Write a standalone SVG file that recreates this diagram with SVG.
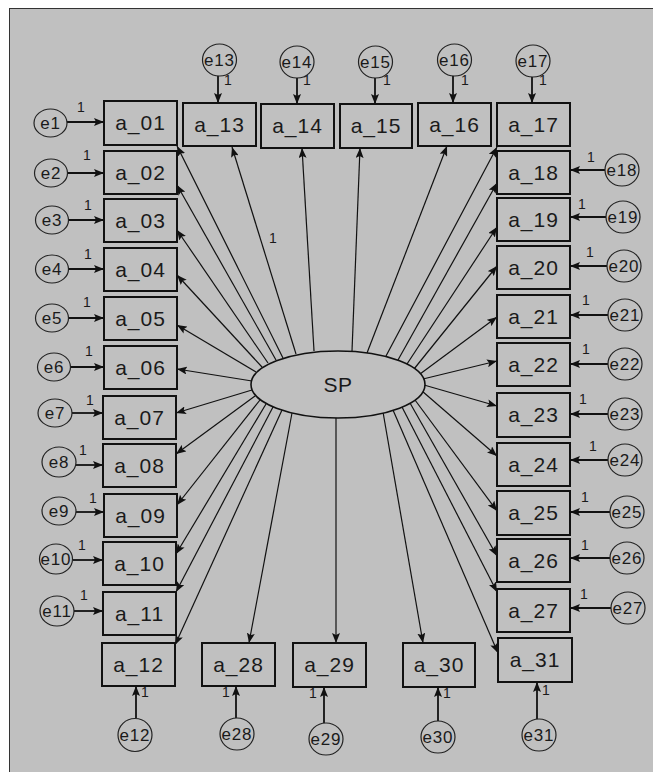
<svg xmlns="http://www.w3.org/2000/svg" width="653" height="772" viewBox="0 0 653 772">
<style>
.box{fill:#c0c0c0;stroke:#111;stroke-width:2}
.err{fill:#c0c0c0;stroke:#222;stroke-width:1.2}
.lat{fill:#c0c0c0;stroke:#111;stroke-width:1.6}
.bt{font-family:"Liberation Sans",Arial,sans-serif;font-size:21px;letter-spacing:1px;fill:#1a1a1a;text-anchor:middle}
.et{font-family:"Liberation Sans",Arial,sans-serif;font-size:17px;letter-spacing:0.8px;fill:#1a1a1a;text-anchor:middle}
.one{font-family:"Liberation Sans",Arial,sans-serif;font-size:14px;fill:#1a1a1a;text-anchor:middle}
.p{stroke:#111;stroke-width:1.2;fill:none;marker-end:url(#ah)}
.ep{stroke:#111;stroke-width:1.8;fill:none;marker-end:url(#ah)}
</style>
<defs>
<marker id="ah" viewBox="0 0 10 8" refX="10" refY="4" markerWidth="10" markerHeight="8" markerUnits="userSpaceOnUse" orient="auto">
<path d="M0,0 L10,4 L0,8 L2,4 z" fill="#111"/>
</marker>
</defs>
<rect x="0" y="0" width="653" height="772" fill="#fff"/>
<rect x="9.5" y="8.5" width="660" height="780" fill="#c0c0c0" stroke="#333" stroke-width="1"/>

<g id="connectors">
<path class="p" d="M283,358 L177,146"/>
<path class="p" d="M276,360 L177,185"/>
<path class="p" d="M268,363 L177,230"/>
<path class="p" d="M262,367 L177,275"/>
<path class="p" d="M256,372 L177,325"/>
<path class="p" d="M252,381 L177,369"/>
<path class="p" d="M252,390 L176,413"/>
<path class="p" d="M255,396 L176,454"/>
<path class="p" d="M260,400 L177,505"/>
<path class="p" d="M266,404 L176,554"/>
<path class="p" d="M273,407 L176,592"/>
<path class="p" d="M282,410 L175,645"/>
<path class="p" d="M292,413 L249,643"/>
<path class="p" d="M336,418 L336,643"/>
<path class="p" d="M383,412 L423,643"/>
<path class="p" d="M393,410 L498,653"/>
<path class="p" d="M402,407 L497,592"/>
<path class="p" d="M410,403 L497,556"/>
<path class="p" d="M415,400 L497,511"/>
<path class="p" d="M422,391 L497,456"/>
<path class="p" d="M424,385 L497,406"/>
<path class="p" d="M423,379 L497,361"/>
<path class="p" d="M420,374 L497,317"/>
<path class="p" d="M414,369 L497,266"/>
<path class="p" d="M407,364 L497,227"/>
<path class="p" d="M398,360 L497,183"/>
<path class="p" d="M386,356 L497,147"/>
<path class="p" d="M367,353 L447,146"/>
<path class="p" d="M352,351 L360,148"/>
<path class="p" d="M314,351 L302,148"/>
<path class="p" d="M296,354 L232,147"/>
<text class="one" x="273" y="243">1</text>

<path class="ep" d="M67,122 L104,122"/>
<path class="ep" d="M68,173 L104,173"/>
<path class="ep" d="M69,220 L104,220"/>
<path class="ep" d="M69,269 L104,269"/>
<path class="ep" d="M69,318 L104,318"/>
<path class="ep" d="M71,367 L104,367"/>
<path class="ep" d="M72,413 L103,413"/>
<path class="ep" d="M76,465 L103,465"/>
<path class="ep" d="M76,512 L104,512"/>
<path class="ep" d="M73,560 L103,560"/>
<path class="ep" d="M74,611 L103,611"/>
<text class="one" x="81" y="112">1</text>
<text class="one" x="87" y="160">1</text>
<text class="one" x="88" y="210">1</text>
<text class="one" x="88" y="259">1</text>
<text class="one" x="87" y="307">1</text>
<text class="one" x="89" y="356">1</text>
<text class="one" x="90" y="405">1</text>
<text class="one" x="83" y="455">1</text>
<text class="one" x="93" y="503">1</text>
<text class="one" x="82" y="550">1</text>
<text class="one" x="84" y="600">1</text>

<path class="ep" d="M605,170 L570,170"/>
<path class="ep" d="M606,217 L570,217"/>
<path class="ep" d="M607,266 L570,266"/>
<path class="ep" d="M608,315 L570,315"/>
<path class="ep" d="M608,364 L570,364"/>
<path class="ep" d="M608,414 L570,414"/>
<path class="ep" d="M608,460 L570,460"/>
<path class="ep" d="M610,512 L570,512"/>
<path class="ep" d="M610,558 L570,558"/>
<path class="ep" d="M611,608 L570,608"/>
<text class="one" x="591" y="162">1</text>
<text class="one" x="582" y="209">1</text>
<text class="one" x="590" y="257">1</text>
<text class="one" x="586" y="305">1</text>
<text class="one" x="586" y="354">1</text>
<text class="one" x="583" y="404">1</text>
<text class="one" x="593" y="451">1</text>
<text class="one" x="585" y="502">1</text>
<text class="one" x="585" y="550">1</text>
<text class="one" x="584" y="599">1</text>

<path class="ep" d="M218,76 L218,103"/>
<path class="ep" d="M297,78 L297,104"/>
<path class="ep" d="M375,78 L375,104"/>
<path class="ep" d="M453,76 L453,103"/>
<path class="ep" d="M532,77 L532,103"/>
<text class="one" x="228" y="85">1</text>
<text class="one" x="307" y="85">1</text>
<text class="one" x="387" y="85">1</text>
<text class="one" x="465" y="85">1</text>
<text class="one" x="543" y="85">1</text>

<path class="ep" d="M136,718 L136,686"/>
<path class="ep" d="M236,718 L236,686"/>
<path class="ep" d="M324,723 L324,687"/>
<path class="ep" d="M438,721 L438,687"/>
<path class="ep" d="M537,719 L537,682"/>
<text class="one" x="145" y="697">1</text>
<text class="one" x="226" y="697">1</text>
<text class="one" x="313" y="698">1</text>
<text class="one" x="447" y="698">1</text>
<text class="one" x="546" y="695">1</text>
</g>

<g id="SP"><ellipse class="lat" cx="338" cy="384.5" rx="87" ry="33.5"/><text class="bt" x="338" y="392" style="letter-spacing:0.5px">SP</text></g>

<g id="a_01"><rect class="box" x="104" y="101" width="73" height="44"/><text class="bt" x="140.5" y="130">a_01</text></g>
<g id="a_02"><rect class="box" x="104" y="151" width="73" height="43"/><text class="bt" x="140.5" y="180">a_02</text></g>
<g id="a_03"><rect class="box" x="104" y="199" width="73" height="43"/><text class="bt" x="140.5" y="228">a_03</text></g>
<g id="a_04"><rect class="box" x="104" y="248" width="73" height="43"/><text class="bt" x="140.5" y="277">a_04</text></g>
<g id="a_05"><rect class="box" x="104" y="297" width="73" height="43"/><text class="bt" x="140.5" y="326">a_05</text></g>
<g id="a_06"><rect class="box" x="104" y="346" width="73" height="43"/><text class="bt" x="140.5" y="375">a_06</text></g>
<g id="a_07"><rect class="box" x="103" y="396" width="73" height="43"/><text class="bt" x="139.5" y="425">a_07</text></g>
<g id="a_08"><rect class="box" x="103" y="444" width="73" height="43"/><text class="bt" x="139.5" y="473">a_08</text></g>
<g id="a_09"><rect class="box" x="104" y="494" width="73" height="43"/><text class="bt" x="140.5" y="523">a_09</text></g>
<g id="a_10"><rect class="box" x="103" y="542" width="73" height="43"/><text class="bt" x="139.5" y="571">a_10</text></g>
<g id="a_11"><rect class="box" x="103" y="592" width="73" height="43"/><text class="bt" x="139.5" y="621">a_11</text></g>
<g id="a_12"><rect class="box" x="102" y="643" width="73" height="43"/><text class="bt" x="138.5" y="672">a_12</text></g>

<g id="a_13"><rect class="box" x="183" y="103" width="73" height="43"/><text class="bt" x="219.5" y="132">a_13</text></g>
<g id="a_14"><rect class="box" x="261" y="104" width="73" height="44"/><text class="bt" x="297.5" y="133">a_14</text></g>
<g id="a_15"><rect class="box" x="340" y="104" width="72" height="44"/><text class="bt" x="376" y="133">a_15</text></g>
<g id="a_16"><rect class="box" x="418" y="103" width="73" height="43"/><text class="bt" x="454.5" y="132">a_16</text></g>
<g id="a_17"><rect class="box" x="497" y="103" width="73" height="43"/><text class="bt" x="533.5" y="132">a_17</text></g>

<g id="a_18"><rect class="box" x="497" y="151" width="73" height="43"/><text class="bt" x="533.5" y="180">a_18</text></g>
<g id="a_19"><rect class="box" x="497" y="198" width="73" height="43"/><text class="bt" x="533.5" y="227">a_19</text></g>
<g id="a_20"><rect class="box" x="497" y="246" width="73" height="43"/><text class="bt" x="533.5" y="275">a_20</text></g>
<g id="a_21"><rect class="box" x="497" y="295" width="73" height="43"/><text class="bt" x="533.5" y="324">a_21</text></g>
<g id="a_22"><rect class="box" x="497" y="343" width="73" height="43"/><text class="bt" x="533.5" y="372">a_22</text></g>
<g id="a_23"><rect class="box" x="497" y="393" width="73" height="44"/><text class="bt" x="533.5" y="422">a_23</text></g>
<g id="a_24"><rect class="box" x="497" y="443" width="73" height="43"/><text class="bt" x="533.5" y="472">a_24</text></g>
<g id="a_25"><rect class="box" x="497" y="491" width="73" height="44"/><text class="bt" x="533.5" y="520">a_25</text></g>
<g id="a_26"><rect class="box" x="497" y="539" width="73" height="43"/><text class="bt" x="533.5" y="568">a_26</text></g>
<g id="a_27"><rect class="box" x="497" y="589" width="73" height="43"/><text class="bt" x="533.5" y="618">a_27</text></g>
<g id="a_31"><rect class="box" x="498" y="638" width="74" height="44"/><text class="bt" x="535" y="667">a_31</text></g>

<g id="a_28"><rect class="box" x="202" y="643" width="73" height="43"/><text class="bt" x="238.5" y="672">a_28</text></g>
<g id="a_29"><rect class="box" x="293" y="643" width="73" height="44"/><text class="bt" x="329.5" y="672">a_29</text></g>
<g id="a_30"><rect class="box" x="403" y="643" width="72" height="44"/><text class="bt" x="439" y="672">a_30</text></g>

<g id="e1"><ellipse class="err" cx="50.5" cy="123" rx="16.5" ry="14"/><text class="et" x="50.5" y="129">e1</text></g>
<g id="e2"><ellipse class="err" cx="51" cy="173" rx="16.5" ry="14"/><text class="et" x="51" y="179">e2</text></g>
<g id="e3"><ellipse class="err" cx="52" cy="220" rx="16.5" ry="14"/><text class="et" x="52" y="226">e3</text></g>
<g id="e4"><ellipse class="err" cx="52" cy="269" rx="16.5" ry="14"/><text class="et" x="52" y="275">e4</text></g>
<g id="e5"><ellipse class="err" cx="52" cy="318" rx="16.5" ry="14"/><text class="et" x="52" y="324">e5</text></g>
<g id="e6"><ellipse class="err" cx="54" cy="367" rx="16.5" ry="14"/><text class="et" x="54" y="373">e6</text></g>
<g id="e7"><ellipse class="err" cx="55" cy="413" rx="17" ry="14"/><text class="et" x="55" y="419">e7</text></g>
<g id="e8"><ellipse class="err" cx="59" cy="462" rx="17" ry="15"/><text class="et" x="59" y="468">e8</text></g>
<g id="e9"><ellipse class="err" cx="59" cy="511" rx="17" ry="14"/><text class="et" x="59" y="517">e9</text></g>
<g id="e10"><ellipse class="err" cx="56" cy="559" rx="16.5" ry="15"/><text class="et" x="56" y="565">e10</text></g>
<g id="e11"><ellipse class="err" cx="57" cy="611" rx="17" ry="15"/><text class="et" x="57" y="617">e11</text></g>

<g id="e13"><ellipse class="err" cx="219.5" cy="60" rx="17" ry="16"/><text class="et" x="219.5" y="66">e13</text></g>
<g id="e14"><ellipse class="err" cx="297" cy="62" rx="17" ry="16"/><text class="et" x="297" y="68">e14</text></g>
<g id="e15"><ellipse class="err" cx="375.5" cy="62" rx="17" ry="16"/><text class="et" x="375.5" y="68">e15</text></g>
<g id="e16"><ellipse class="err" cx="454.5" cy="60" rx="17" ry="16"/><text class="et" x="454.5" y="66">e16</text></g>
<g id="e17"><ellipse class="err" cx="533" cy="61" rx="17" ry="16"/><text class="et" x="533" y="67">e17</text></g>

<g id="e18"><ellipse class="err" cx="622" cy="170" rx="17" ry="16"/><text class="et" x="622" y="176">e18</text></g>
<g id="e19"><ellipse class="err" cx="623" cy="217" rx="17" ry="16"/><text class="et" x="623" y="223">e19</text></g>
<g id="e20"><ellipse class="err" cx="624" cy="266" rx="17" ry="16"/><text class="et" x="624" y="272">e20</text></g>
<g id="e21"><ellipse class="err" cx="625" cy="315" rx="17" ry="16"/><text class="et" x="625" y="321">e21</text></g>
<g id="e22"><ellipse class="err" cx="625" cy="364" rx="17" ry="16"/><text class="et" x="625" y="370">e22</text></g>
<g id="e23"><ellipse class="err" cx="625" cy="414" rx="17" ry="16"/><text class="et" x="625" y="420">e23</text></g>
<g id="e24"><ellipse class="err" cx="625" cy="460" rx="17" ry="16"/><text class="et" x="625" y="466">e24</text></g>
<g id="e25"><ellipse class="err" cx="627" cy="512" rx="17" ry="16"/><text class="et" x="627" y="518">e25</text></g>
<g id="e26"><ellipse class="err" cx="627" cy="558" rx="17" ry="16"/><text class="et" x="627" y="564">e26</text></g>
<g id="e27"><ellipse class="err" cx="628" cy="608" rx="17" ry="16"/><text class="et" x="628" y="614">e27</text></g>

<g id="e12"><ellipse class="err" cx="135" cy="735" rx="17" ry="16.5"/><text class="et" x="135" y="741">e12</text></g>
<g id="e28"><ellipse class="err" cx="237" cy="734" rx="17" ry="16"/><text class="et" x="237" y="740">e28</text></g>
<g id="e29"><ellipse class="err" cx="326" cy="739" rx="17" ry="16"/><text class="et" x="326" y="745">e29</text></g>
<g id="e30"><ellipse class="err" cx="438" cy="737" rx="17" ry="16"/><text class="et" x="438" y="743">e30</text></g>
<g id="e31"><ellipse class="err" cx="539" cy="735" rx="17" ry="16"/><text class="et" x="539" y="741">e31</text></g>
</svg>
